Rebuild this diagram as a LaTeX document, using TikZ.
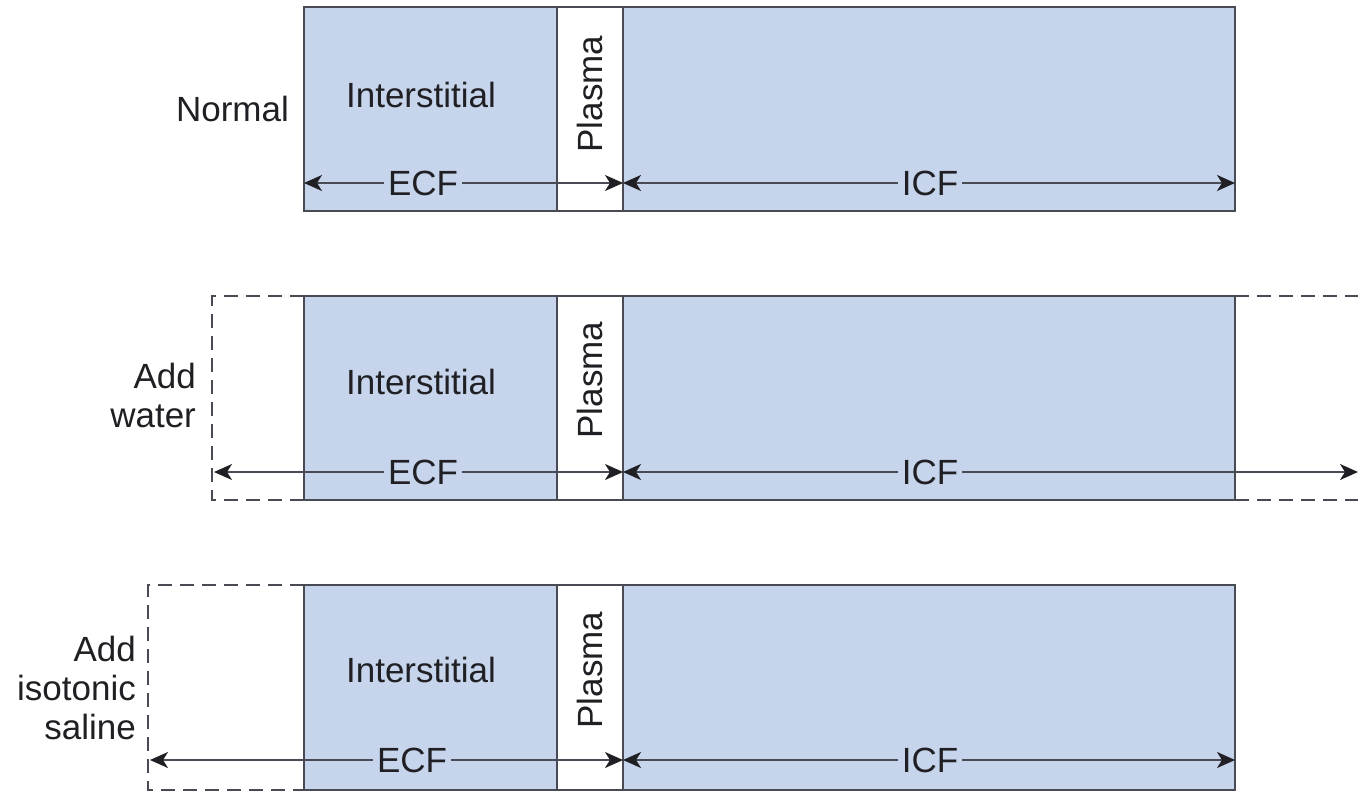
\documentclass[tikz,border=0pt]{standalone}
\usepackage{fontspec}
\setmainfont{Liberation Sans}
\usetikzlibrary{arrows.meta}
\definecolor{fluid}{RGB}{198,212,236}
\definecolor{edge}{RGB}{72,74,84}
\definecolor{ink}{RGB}{32,32,36}

\begin{document}
\begin{tikzpicture}[x=0.5pt,y=-0.5pt,>={Stealth[length=9pt,width=8pt,inset=2.5pt,color=ink]},line width=1.1pt,
  font=\fontsize{17.5}{19.5}\selectfont,text=ink,
  compart/.style={draw=edge,fill=fluid},
  plasmabox/.style={draw=edge,fill=white},
  extra/.style={draw=edge,line width=1pt,dash pattern=on 7pt off 4pt},
  spanline/.style={<->,draw=edge,line width=0.9pt},
  tag/.style={fill=fluid,inner sep=2pt},
  rowlabel/.style={anchor=east,align=right,inner sep=2pt}]
\useasboundingbox (0,0) rectangle (1358,791);
\draw[compart] (304,7) rectangle (557,211);
\draw[plasmabox] (557,7) rectangle (623,211);
\draw[compart] (623,7) rectangle (1235,211);
\node (int1) at (421,95) {Interstitial};
\node[rotate=90] (pla1) at (590,94) {Plasma};
\node[rowlabel] (lab1) at (294,109) {Normal};
\coordinate (e1l) at (304,183);
\coordinate (e1r) at (623,183);
\coordinate (i1r) at (1235,183);
\draw[spanline] (e1l) -- (e1r);
\draw[spanline] (e1r) -- (i1r);
\node[tag] (ecf1) at (423,183) {ECF};
\node[tag] (icf1) at (930,183) {ICF};

\draw[extra] (304,296) -- (212,296) -- (212,500) -- (304,500);
\draw[extra] (1235,296) -- (1360,296);
\draw[extra] (1235,500) -- (1360,500);
\draw[compart] (304,296) rectangle (557,500);
\draw[plasmabox] (557,296) rectangle (623,500);
\draw[compart] (623,296) rectangle (1235,500);
\node (int2) at (421,382) {Interstitial};
\node[rotate=90] (pla2) at (590,380) {Plasma};
\node[rowlabel] (lab2) at (201,395) {Add\\water};
\coordinate (e2l) at (214,472);
\coordinate (e2r) at (623,472);
\coordinate (i2r) at (1358,472);
\draw[spanline] (e2l) -- (e2r);
\draw[spanline] (e2r) -- (i2r);
\node[tag] (ecf2) at (423,472) {ECF};
\node[tag] (icf2) at (930,472) {ICF};

\draw[extra] (304,585) -- (148,585) -- (148,790) -- (304,790);
\draw[compart] (304,585) rectangle (557,790);
\draw[plasmabox] (557,585) rectangle (623,790);
\draw[compart] (623,585) rectangle (1235,790);
\node (int3) at (421,670) {Interstitial};
\node[rotate=90] (pla3) at (590,670) {Plasma};
\node[rowlabel] (lab3) at (141,688) {Add\\isotonic\\saline};
\coordinate (e3l) at (150,760);
\coordinate (e3r) at (623,760);
\coordinate (i3r) at (1235,760);
\draw[spanline] (e3l) -- (e3r);
\draw[spanline] (e3r) -- (i3r);
\node[tag] (ecf3) at (412,760) {ECF};
\node[tag] (icf3) at (930,760) {ICF};
\end{tikzpicture}
\end{document}
